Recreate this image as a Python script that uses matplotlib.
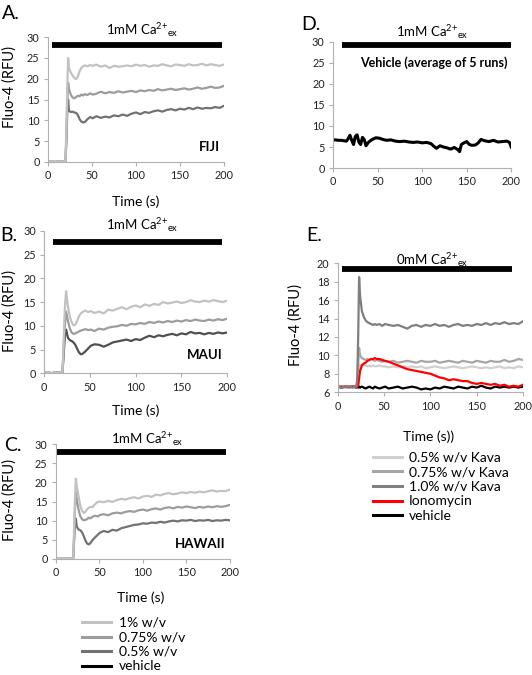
import matplotlib
matplotlib.use('Agg')
import matplotlib.pyplot as plt
from matplotlib.lines import Line2D

plt.rcParams['font.family'] = ['Lato', 'DejaVu Sans']
plt.rcParams['mathtext.default'] = 'regular'

# time grid shared by panels A, B, C, E (s)
t = [0, 4, 8, 12, 16, 20,
     21, 22, 23, 24,
     26, 28, 30, 32, 34, 36, 38, 40, 42,
     45, 48, 51, 55,
     60, 65, 70, 75, 80, 85, 90, 95, 100, 105, 110, 115, 120, 125, 130,
     135, 140, 145, 150, 155, 160, 165, 170, 175, 180, 185, 190, 195, 200]

base0 = [0.1, 0.2, 0.0, 0.2, 0.1, 0.2]

# A. FIJI
fiji_1 = base0 + [8, 18, 25, 22.5] + \
    [21.5, 20.8, 20.2, 19.9, 20.5, 21.8, 22.6, 23.0, 23.2] + [23.0, 23.3, 23.1, 23.4] + \
    [22.9, 23.2, 22.6, 23.1, 22.9, 23.0, 23.2, 23.0, 23.4, 23.1,
     23.3, 22.9, 23.2, 23.1, 23.5, 23.2, 23.0, 23.4, 23.3, 23.1,
     23.5, 23.2, 23.3, 23.6, 23.2, 23.5, 23.3, 23.1, 23.4]
fiji_075 = base0 + [6, 14, 19, 17.5] + \
    [16.2, 15.5, 15.3, 15.6, 15.9, 15.8, 16.2, 16.0, 16.3] + [16.1, 16.5, 16.2, 16.4] + \
    [16.9, 16.5, 16.8, 16.6, 17.0, 16.7, 16.9, 17.1, 16.8, 17.2,
     17.0, 17.3, 17.1, 17.5, 17.2, 17.4, 17.6, 17.3, 17.5, 17.7,
     17.4, 17.6, 17.9, 17.6, 17.8, 18.1, 17.8, 17.9, 18.3]
fiji_05 = base0 + [5, 12, 15, 12.3] + \
    [12.0, 12.1, 11.9, 11.8, 11.3, 10.3, 9.7, 9.5, 9.6] + [10.3, 10.8, 10.5, 11.0] + \
    [10.6, 10.9, 10.7, 11.2, 11.0, 11.4, 11.1, 11.6, 11.9, 11.5,
     12.0, 11.8, 12.2, 12.4, 12.1, 12.5, 12.7, 12.4, 12.8, 12.6,
     13.0, 12.7, 13.1, 12.8, 13.0, 12.9, 13.2, 13.0, 13.5]

# B. MAUI
maui_1 = base0 + [5, 11, 15, 17.3] + \
    [14, 12, 10.8, 10.1, 10.2, 11.0, 12.0, 12.6, 12.9] + [13.2, 12.9, 13.1, 12.7] + \
    [13.0, 12.6, 13.4, 13.2, 13.6, 13.9, 13.5, 14.0, 14.3, 13.9,
     14.5, 14.2, 14.6, 14.4, 15.0, 14.7, 14.9, 15.1, 14.8, 15.0,
     15.4, 15.1, 15.0, 15.3, 15.1, 15.4, 15.2, 15.0, 15.3]
maui_075 = base0 + [4, 8, 11, 13] + \
    [11, 9.5, 8.6, 8.3, 8.4, 8.6, 8.8, 9.0, 9.1] + [9.3, 9.1, 9.2, 8.9] + \
    [9.4, 9.2, 9.6, 9.8, 9.9, 10.2, 10.0, 10.4, 10.3, 10.6,
     10.4, 10.8, 10.6, 10.9, 10.7, 11.0, 10.8, 11.1, 10.9, 11.2,
     11.0, 11.3, 11.1, 11.0, 11.3, 11.1, 11.4, 11.2, 11.5]
maui_05 = base0 + [3, 6, 8.5, 9.2] + \
    [7.5, 7.0, 6.8, 6.5, 6.0, 5.2, 4.4, 4.0, 4.1] + [4.6, 5.2, 5.8, 6.1] + \
    [6.0, 5.6, 6.0, 6.5, 6.7, 6.9, 7.1, 6.8, 7.2, 7.0,
     7.5, 7.9, 7.6, 8.0, 7.8, 8.1, 8.3, 8.0, 8.4, 8.2,
     8.7, 8.4, 8.5, 8.2, 8.5, 8.3, 8.6, 8.4, 8.6]

# C. HAWAII
hawaii_1 = base0 + [8, 16, 21, 19] + \
    [16.5, 14, 12.6, 12.0, 12.3, 13.0, 13.4, 13.6, 13.5] + [14.3, 14.9, 15.0, 14.8] + \
    [15.2, 14.9, 15.4, 15.7, 15.5, 15.9, 16.1, 15.8, 16.3, 16.5,
     16.2, 16.8, 16.6, 17.0, 17.2, 16.9, 17.1, 17.4, 17.2, 17.5,
     17.3, 17.6, 17.4, 17.7, 17.9, 17.6, 17.8, 17.7, 18.1]
hawaii_075 = base0 + [6, 13, 17.5, 15.5] + \
    [13, 11.2, 10.4, 10.1, 10.2, 10.4, 10.8, 10.6, 11.0] + [11.3, 11.1, 11.5, 11.7] + \
    [11.4, 11.9, 12.1, 11.9, 12.3, 12.5, 12.3, 12.7, 12.9, 12.6,
     13.0, 13.2, 12.9, 13.3, 13.5, 13.2, 13.6, 13.4, 13.7, 13.5,
     13.3, 13.6, 13.4, 13.7, 13.5, 13.8, 13.6, 13.8, 14.1]
hawaii_05 = base0 + [5, 9, 10.5, 8.5] + \
    [7.7, 7.5, 7.0, 6.0, 4.8, 4.0, 3.8, 4.2, 4.9] + [5.6, 6.3, 6.9, 7.3] + \
    [7.0, 7.6, 7.4, 8.0, 8.3, 8.6, 8.9, 9.0, 9.3, 9.2,
     9.5, 9.4, 9.7, 9.5, 9.8, 10.0, 9.8, 10.1, 10.0, 10.2,
     9.9, 10.1, 10.0, 10.2, 9.9, 10.1, 10.0, 10.2, 10.1]

# D. vehicle, 1mM Ca
t_d = [0, 3, 6, 9, 12, 15, 17, 19, 21, 23, 25, 27, 29, 31, 33, 35, 37,
       40, 44, 48, 52, 56, 60, 65, 70, 75, 80, 85, 90, 95, 100, 105, 110,
       113, 116, 120, 124, 128, 132, 136, 140, 142, 144, 147, 150, 153, 156,
       160, 163, 166, 170, 175, 180, 185, 190, 195, 198, 200]
veh_d = [6.7, 6.7, 6.6, 6.6, 6.5, 6.4, 7.0, 7.8, 6.6, 5.6, 7.5, 7.9, 6.2, 5.6, 7.3, 6.8, 5.3,
         6.2, 6.8, 7.2, 7.1, 6.8, 6.6, 6.7, 6.4, 6.3, 6.4, 6.2, 6.1, 6.2, 6.0, 6.1, 5.8,
         5.2, 4.7, 5.3, 5.0, 4.8, 4.5, 4.9, 4.4, 3.9, 5.6, 6.0, 6.3, 5.6, 5.4,
         5.5, 6.0, 6.8, 6.5, 6.3, 6.6, 6.2, 6.3, 6.4, 6.1, 5.0]

# E. 0mM Ca
kava_e_05 = [6.6, 6.6, 6.6, 6.5, 6.6, 6.6] + [6.8, 7.8, 8.6, 9.0] + \
    [9.0, 8.9, 8.9, 8.8, 8.9, 8.8, 8.9, 8.8, 8.8] + [8.9, 8.8, 8.8, 8.7] + \
    [8.8, 8.7, 8.8, 8.7, 8.8, 8.7, 8.8, 8.6, 8.7, 8.8,
     8.7, 8.6, 8.7, 8.8, 8.7, 8.6, 8.7, 8.8, 8.7, 8.6,
     8.7, 8.6, 8.7, 8.8, 8.6, 8.7, 8.6, 8.8, 8.7]
kava_e_075 = [6.6, 6.6, 6.5, 6.6, 6.6, 6.6] + [7.0, 9.0, 10.8, 10.0] + \
    [9.7, 9.6, 9.5, 9.6, 9.5, 9.6, 9.5, 9.4, 9.5] + [9.4, 9.3, 9.4, 9.3] + \
    [9.4, 9.2, 9.3, 9.4, 9.3, 9.2, 9.4, 9.3, 9.3, 9.4,
     9.2, 9.3, 9.4, 9.3, 9.2, 9.4, 9.3, 9.2, 9.4, 9.3,
     9.2, 9.4, 9.3, 9.3, 9.5, 9.3, 9.4, 9.6, 9.5]
kava_e_10 = [6.6, 6.5, 6.6, 6.6, 6.5, 6.6] + [7.5, 12, 18.5, 16.5] + \
    [14.8, 14.2, 13.8, 13.6, 13.5, 13.4, 13.3, 13.4, 13.3] + [13.4, 13.2, 13.4, 13.3] + \
    [13.2, 13.3, 13.1, 12.9, 13.2, 13.3, 13.1, 13.3, 13.2, 13.4,
     13.2, 13.3, 13.1, 13.3, 13.4, 13.2, 13.3, 13.2, 13.4, 13.3,
     13.5, 13.3, 13.5, 13.4, 13.6, 13.4, 13.5, 13.4, 13.7]
iono_e = [6.6, 6.6, 6.6, 6.6, 6.6, 6.6] + [6.6, 6.7, 7.5, 8.3] + \
    [8.9, 9.1, 9.2, 9.4, 9.5, 9.6, 9.6, 9.7, 9.6] + [9.6, 9.5, 9.4, 9.3] + \
    [9.1, 8.9, 8.7, 8.5, 8.4, 8.3, 8.2, 8.1, 8.0, 7.8,
     7.6, 7.5, 7.3, 7.4, 7.3, 7.2, 7.2, 7.0, 6.9, 7.0,
     6.9, 6.8, 6.9, 6.7, 6.8, 6.6, 6.7, 6.6, 6.8]
veh_e = [6.6, 6.5, 6.6, 6.5, 6.6, 6.5] + [6.6, 6.5, 6.6, 6.5] + \
    [6.6, 6.5, 6.4, 6.5, 6.6, 6.5, 6.4, 6.6, 6.5] + [6.4, 6.5, 6.6, 6.4] + \
    [6.5, 6.6, 6.4, 6.5, 6.6, 6.5, 6.3, 6.4, 6.3, 6.5,
     6.4, 6.6, 6.5, 6.4, 6.6, 6.5, 6.4, 6.6, 6.5, 6.7,
     6.5, 6.4, 6.6, 6.5, 6.6, 6.5, 6.6, 6.5, 6.6]

labels_abc = ['1% w/v', '0.75% w/v', '0.5% w/v', 'vehicle']
labels_e = ['0.5% w/v Kava', '0.75% w/v Kava', '1.0% w/v Kava', 'Ionomycin', 'vehicle']

c_hi, c_mid, c_lo = '#c2c2c2', '#9c9c9c', '#727272'
axis_col = '#b0b0b0'


def style(ax, ylim, yticks):
    for s in ['top', 'right']:
        ax.spines[s].set_visible(False)
    for s in ['left', 'bottom']:
        ax.spines[s].set_color(axis_col)
        ax.spines[s].set_linewidth(0.8)
    ax.set_xlim(0, 200)
    ax.set_ylim(*ylim)
    ax.set_xticks([0, 50, 100, 150, 200])
    ax.set_yticks(yticks)
    ax.tick_params(direction='out', length=3, width=0.8, color=axis_col,
                   labelsize=7.8, pad=3, labelcolor='#222222')


def ca_bar(ax, x0, x1, y, tx, ty, txt):
    ax.plot([x0, x1], [y, y], color='black', lw=4.2, solid_capstyle='butt', clip_on=False)
    ax.text(tx, ty, txt, ha='center', va='center', fontsize=9.5, clip_on=False)


fig = plt.figure(figsize=(5.32, 6.75), dpi=100)

axA = fig.add_axes([0.090, 0.760, 0.331, 0.185])
axD = fig.add_axes([0.626, 0.751, 0.335, 0.187])
axB = fig.add_axes([0.083, 0.447, 0.344, 0.211])
axE = fig.add_axes([0.635, 0.419, 0.348, 0.191])
axC = fig.add_axes([0.105, 0.172, 0.327, 0.170])

ca1 = '1mM Ca$^{2{+}}$$_{ex}$'

# A
axA.plot(t, fiji_05, color=c_lo, lw=1.6)
axA.plot(t, fiji_075, color=c_mid, lw=1.6)
axA.plot(t, fiji_1, color=c_hi, lw=1.6)
style(axA, (0, 30), range(0, 31, 5))
ca_bar(axA, 5, 198, 28, 107, 31.6, ca1)
axA.text(195, 3.5, 'FIJI', ha='right', va='center', fontsize=9.5, fontweight='bold')
axA.set_ylabel('Fluo-4 (RFU)', fontsize=10.5)
axA.yaxis.set_label_coords(-0.176, 0.6)
axA.set_xlabel('Time (s)', fontsize=10)
axA.xaxis.set_label_coords(0.5, -0.264)

# B
axB.plot(t, maui_05, color='#505050', lw=1.6)
axB.plot(t, maui_075, color=c_mid, lw=1.6)
axB.plot(t, maui_1, color=c_hi, lw=1.6)
style(axB, (0, 30), range(0, 31, 5))
ca_bar(axB, 10, 194, 27.7, 107, 31.2, ca1)
axB.text(195, 3.8, 'MAUI', ha='right', va='center', fontsize=9.5, fontweight='bold')
axB.set_ylabel('Fluo-4 (RFU)', fontsize=10.5)
axB.yaxis.set_label_coords(-0.148, 0.44)
axB.set_xlabel('Time (s)', fontsize=10)
axB.xaxis.set_label_coords(0.5, -0.22)

# C
axC.plot(t, hawaii_05, color=c_lo, lw=1.6)
axC.plot(t, hawaii_075, color=c_mid, lw=1.6)
axC.plot(t, hawaii_1, color=c_hi, lw=1.6)
style(axC, (0, 30), range(0, 31, 5))
ca_bar(axC, 0, 196, 28, 105, 31.4, ca1)
axC.text(195, 3.9, 'HAWAII', ha='right', va='center', fontsize=9.5, fontweight='bold')
axC.set_ylabel('Fluo-4 (RFU)', fontsize=10.5)
axC.yaxis.set_label_coords(-0.224, 0.51)
axC.set_xlabel('Time (s)', fontsize=10)
axC.xaxis.set_label_coords(0.49, -0.287)

# D
axD.plot(t_d, veh_d, color='black', lw=2.2)
style(axD, (0, 30), range(0, 31, 5))
ca_bar(axD, 10, 200, 29.2, 111, 32.4, ca1)
axD.text(30, 25, 'Vehicle (average of 5 runs)', ha='left', va='center',
         fontsize=9, fontweight='bold')

# E
axE.plot(t, veh_e, color='black', lw=1.6)
axE.plot(t, kava_e_05, color='#d0d0d0', lw=1.6)
axE.plot(t, kava_e_075, color='#a6a6a6', lw=1.6)
axE.plot(t, iono_e, color='red', lw=1.6)
axE.plot(t, kava_e_10, color='#7f7f7f', lw=1.6)
style(axE, (6, 20), range(6, 21, 2))
ca_bar(axE, 4, 188, 19.35, 102, 20.3, '0mM Ca$^{2{+}}$$_{ex}$')
axE.set_ylabel('Fluo-4 (RFU)', fontsize=10.5)
axE.yaxis.set_label_coords(-0.19, 0.52)
axE.set_xlabel('Time (s))', fontsize=10)
axE.xaxis.set_label_coords(0.49, -0.295)

# panel letters
for txt, x, y in [('A.', 0.003, 0.992), ('D.', 0.566, 0.977),
                  ('B.', 0.0, 0.663), ('E.', 0.576, 0.663), ('C.', 0.008, 0.352)]:
    fig.text(x, y, txt, fontsize=14, ha='left', va='top')

# legends
h_abc = [Line2D([], [], color=c, lw=2.2) for c in [c_hi, c_mid, c_lo, 'black']]
fig.legend(h_abc, labels_abc, loc='upper left', bbox_to_anchor=(0.154, 0.086),
           frameon=False, fontsize=10, handlelength=2.1, handletextpad=0.55,
           labelspacing=0.18, borderpad=0, borderaxespad=0)

h_e = [Line2D([], [], color=c, lw=2.2) for c in ['#d0d0d0', '#a6a6a6', '#7f7f7f', 'red', 'black']]
fig.legend(h_e, labels_e, loc='upper left', bbox_to_anchor=(0.701, 0.331),
           frameon=False, fontsize=10, handlelength=2.1, handletextpad=0.5,
           labelspacing=0.19, borderpad=0, borderaxespad=0)

fig.savefig('out.png', dpi=100)
